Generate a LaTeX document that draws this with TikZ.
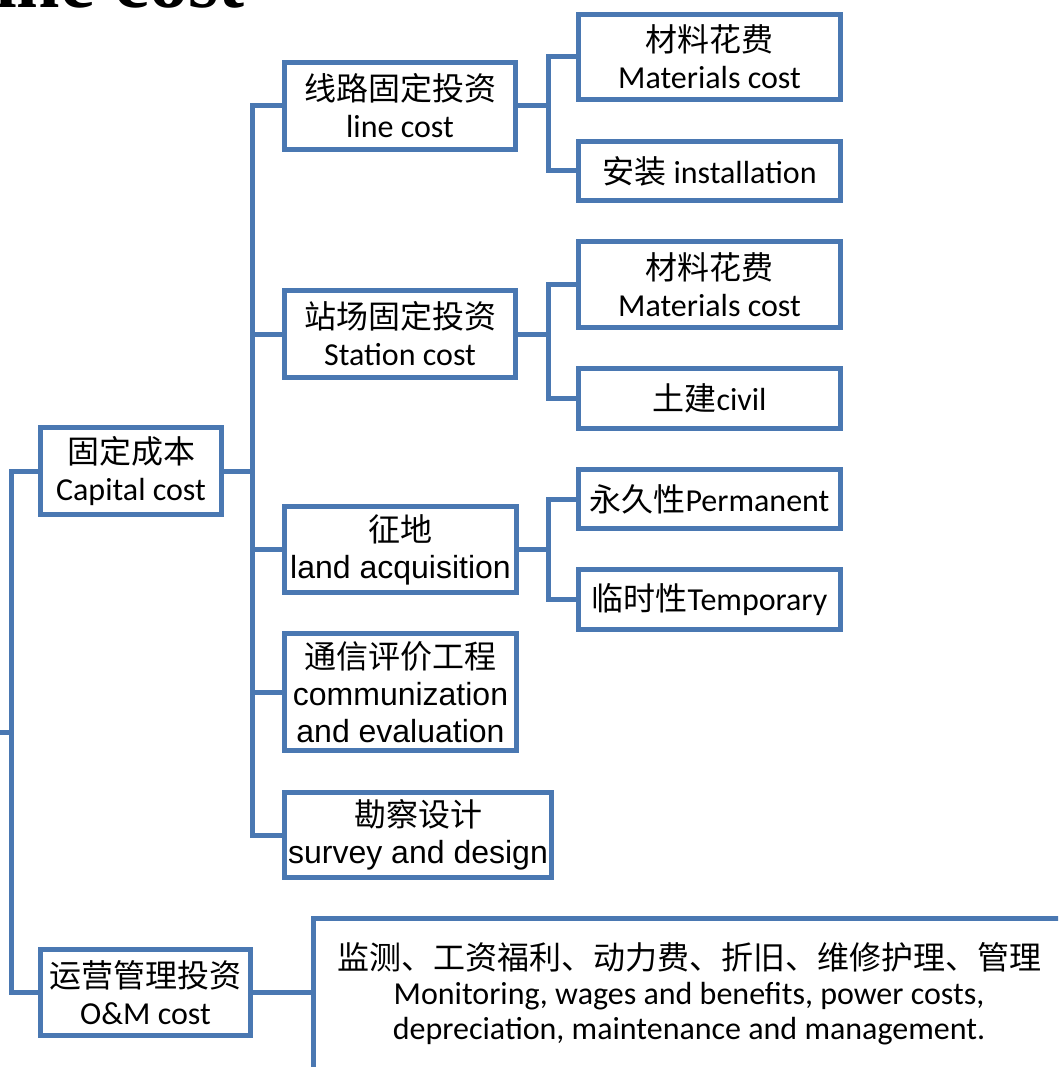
\documentclass[tikz,border=0pt]{standalone}
\usepackage{fontspec}
\setmainfont{Carlito}
\newfontfamily\cjk{Noto Sans CJK SC}
\newfontfamily\arial{Liberation Sans}
\newfontfamily\titlefont{Liberation Serif}
\definecolor{myblue}{HTML}{4A78B2}
\tikzset{
  box/.style={draw=myblue, line width=5pt, fill=white, align=center, inner sep=0pt,
    font=\fontsize{32}{37}\selectfont},
  conn/.style={draw=myblue, line width=5pt},
}
\begin{document}
\begin{tikzpicture}[x=1pt,y=-1pt]
\clip (0,0) rectangle (1058,1067);
\fill[white] (0,0) rectangle (1058,1067);

% cut-off title
\node[anchor=base west, inner sep=0pt, font=\titlefont\bfseries\fontsize{78}{80}\selectfont] (title) at (-5,8) {ine cost};

% level 1
\node[box, minimum width=181, minimum height=87] (cap) at (131,471) {{\cjk 固定成本}\\Capital cost};
\node[box, minimum width=210, minimum height=86] (om) at (145.5,992.5) {{\cjk 运营管理投资}\\O\&M cost};

% level 2
\node[box, minimum width=231, minimum height=87] (line) at (400,106) {{\cjk 线路固定投资}\\line cost};
\node[box, minimum width=231, minimum height=87] (station) at (400,334) {{\cjk 站场固定投资}\\Station cost};
\node[box, minimum width=232, minimum height=86] (land) at (400.5,549.5) {{\cjk 征地}\\{\arial land acquisition}};
\node[box, minimum width=232, minimum height=117] (comm) at (400.5,692) {{\cjk 通信评价工程}\\{\arial communization}\\{\arial and evaluation}};
\node[box, minimum width=267, minimum height=85] (survey) at (418,835) {{\cjk 勘察设计}\\{\arial survey and design}};

% level 3
\node[box, minimum width=262, minimum height=85] (mat1) at (709.5,57) {{\cjk 材料花费}\\Materials cost};
\node[box, minimum width=262, minimum height=59] (inst) at (709.5,171) {{\cjk 安装} installation};
\node[box, minimum width=262, minimum height=86] (mat2) at (709.5,284.5) {{\cjk 材料花费}\\Materials cost};
\node[box, minimum width=262, minimum height=60] (civil) at (709.5,398.5) {{\cjk 土建}civil};
\node[box, minimum width=262, minimum height=59] (perm) at (709.5,499) {{\cjk 永久性}Permanent};
\node[box, minimum width=262, minimum height=60] (temp) at (709.5,599.5) {{\cjk 临时性}Temporary};

% O&M description
\node[box, minimum width=751, minimum height=152, font=\fontsize{32}{35}\selectfont] (desc) at (689,994) {{\cjk 监测、工资福利、动力费、折旧、维修护理、管理}\\Monitoring, wages and benefits, power costs,\\depreciation, maintenance and management.};

% connectors
\coordinate (parent) at (0,732);
\draw[conn] (parent) -- (11,732);
\draw[conn] (cap.west) -- ++(-27,0) |- (om.west);
\foreach \c in {line,station,land,comm,survey}
  \draw[conn] (cap.east) -| ([xshift=-30pt]\c.west) -- (\c.west);
\foreach \p/\c in {line/mat1,line/inst,station/mat2,station/civil,land/perm,land/temp}
  \draw[conn] (\p.east) -| ([xshift=-28pt]\c.west) -- (\c.west);
\draw[conn] (om.east) -- (desc.west |- om.east);
\end{tikzpicture}
\end{document}
